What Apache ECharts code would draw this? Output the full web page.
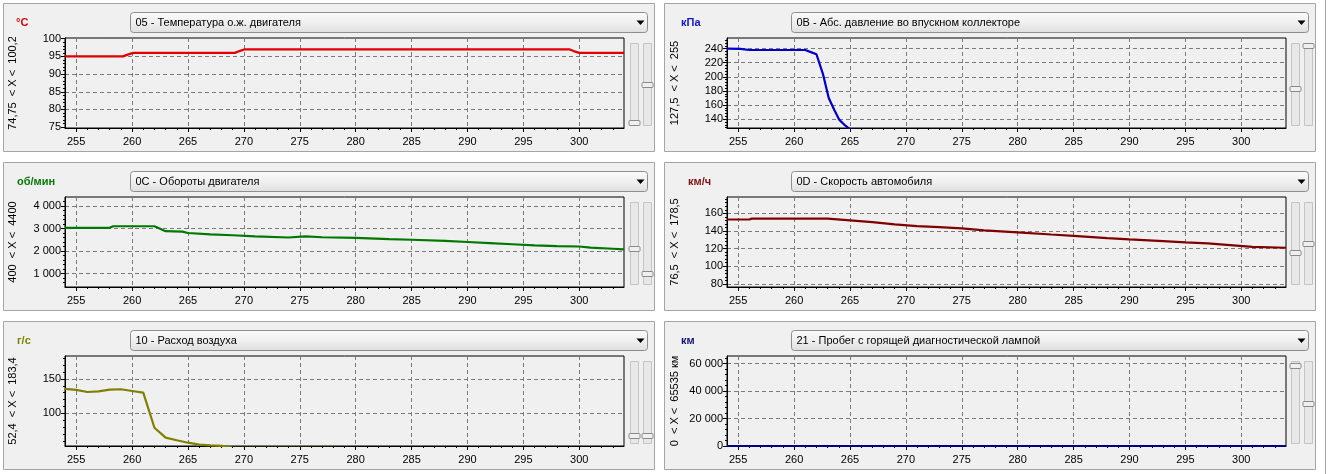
<!DOCTYPE html>
<html><head><meta charset="utf-8">
<script src="https://cdn.jsdelivr.net/npm/echarts@6/dist/echarts.min.js"></script>
<style>html,body{margin:0;padding:0;background:#fff}#c{width:1329px;height:474px}</style>
</head><body><div id="c"></div>
<script>
// ---- data ----
const xRange = [254, 304];
const xTicks = [255, 260, 265, 270, 275, 280, 285, 290, 295, 300];

const tempRange = [74.75, 100.2];
const tempTicks = [75, 80, 85, 90, 95, 100];
const tempTime  = [254, 259.2, 259.6, 260.1, 269.2, 269.6, 270.1, 299.1, 299.5, 300, 304];
const tempValue = [95, 95, 95.5, 96, 96, 96.5, 97, 97, 96.5, 96, 96];

const mapRange = [127.5, 255];
const mapTicks = [140, 160, 180, 200, 220, 240];
const mapTime  = [254, 255.2, 256, 261, 261.5, 262, 262.6, 263.1, 263.6, 264.05, 264.5, 265, 266, 268, 304];
const mapValue = [240, 239.5, 238, 238, 235, 232, 203, 170, 153, 139, 132, 126, 110, 100, 100];

const rpmRange = [400, 4400];
const rpmTicks = [1000, 2000, 3000, 4000];
const rpmTime  = [254, 258, 258.3, 262, 263, 264.5, 265, 267, 269, 271, 274, 275.5, 277, 280, 283, 285, 288, 290, 292, 294, 296, 298, 300, 301, 303, 304];
const rpmValue = [3030, 3030, 3100, 3100, 2880, 2860, 2800, 2740, 2700, 2650, 2600, 2650, 2610, 2580, 2530, 2500, 2450, 2400, 2350, 2300, 2250, 2220, 2200, 2150, 2100, 2070];

const speedRange = [76.5, 178.5];
const speedTicks = [80, 100, 120, 140, 160];
const speedTime  = [254, 256, 256.2, 263, 265, 267, 269, 271, 273, 275, 277, 280, 283, 285, 288, 290, 293, 295, 297, 299, 301, 304];
const speedValue = [153, 153, 154, 154, 152, 150, 147.5, 145.5, 144.3, 143, 140.7, 138.5, 136, 134.5, 132, 130.5, 128.5, 127, 126, 124, 122, 121];

const mafRange = [52.4, 183.4];
const mafTicks = [100, 150];
const mafTime  = [254, 255, 256, 257, 258, 259, 260, 261, 262, 263, 264, 265, 266, 267, 268, 269, 304];
const mafValue = [135.5, 134, 131, 132, 134.5, 135, 132.5, 130, 79, 64.5, 60.7, 57.2, 54.5, 53.2, 52.5, 50, 48];

const kmRange = [0, 65535];
const kmTicks = [0, 20000, 40000, 60000];
const kmTime  = [254, 304];
const kmValue = [0, 0];

// ---- layout / styling ----
const FONT = '"Liberation Sans", Arial, sans-serif';
const panels = [
  {px:3,   py:3,   gl:65,  gt:38,  unit:'°C',     ux:16,  uc:'#e00000', title:'05 - Температура о.ж. двигателя', range:'74,75  < X <  100,2', r:tempRange, ticks:tempTicks, split:5, t:tempTime, v:tempValue, color:'#e00000', thumbs:[1.0,0.5]},
  {px:664, py:3,   gl:727, gt:38,  unit:'кПа',    ux:681, uc:'#1414c8', title:'0B - Абс. давление во впускном коллекторе', range:'127,5  < X <  255', r:mapRange, ticks:mapTicks, split:6, t:mapTime, v:mapValue, color:'#0000c8', thumbs:[0.56,0]},
  {px:3,   py:162, gl:65,  gt:197, unit:'об/мин', ux:17,  uc:'#087808', title:'0C - Обороты двигателя', range:'400  < X <  4400', r:rpmRange, ticks:rpmTicks, split:5, t:rpmTime, v:rpmValue, color:'#007800', thumbs:[0.57,0.89]},
  {px:664, py:162, gl:727, gt:197, unit:'км/ч',   ux:688, uc:'#801010', title:'0D - Скорость автомобиля', range:'76,5  < X <  178,5', r:speedRange, ticks:speedTicks, split:5, t:speedTime, v:speedValue, color:'#800000', thumbs:[0.62,0.5]},
  {px:3,   py:321, gl:65,  gt:356, unit:'г/с',    ux:17,  uc:'#808000', title:'10 - Расход воздуха', range:'52,4  < X <  183,4', r:mafRange, ticks:mafTicks, split:3, t:mafTime, v:mafValue, color:'#808000', thumbs:[0.93,0.93]},
  {px:664, py:321, gl:727, gt:356, unit:'км',     ux:681, uc:'#10107a', title:'21 - Пробег с горящей диагностической лампой', range:'0  < X <  65535 км', r:kmRange, ticks:kmTicks, split:3, t:kmTime, v:kmValue, color:'#000080', thumbs:[0.02,0.52]}
];
const GW = 559, GH = 90;
const fmt = v => String(v).replace(/\B(?=(\d{3})+(?!\d))/g, ' ');

const grids = [], xAxes = [], yAxes = [], series = [], els = [];
panels.forEach((p, i) => {
  grids.push({left:p.gl, top:p.gt, width:GW, height:GH, show:true, borderColor:'#000', borderWidth:1, backgroundColor:'transparent'});
  xAxes.push({
    type:'value', gridIndex:i, min:xRange[0], max:xRange[1], splitNumber:10,
    axisLine:{show:true, lineStyle:{color:'#000', width:1}},
    axisTick:{show:true, customValues:xTicks, length:4, lineStyle:{color:'#000'}},
    minorTick:{show:true, splitNumber:5, length:2, lineStyle:{color:'#000'}},
    axisLabel:{customValues:xTicks, color:'#000', fontSize:11, fontFamily:FONT, margin:8},
    splitLine:{show:true, lineStyle:{color:'#7a7a7a', type:[4,3], width:1}}
  });
  yAxes.push({
    type:'value', gridIndex:i, min:p.r[0], max:p.r[1], splitNumber:p.split,
    name:p.range, nameLocation:'middle', nameRotate:90, nameGap:47,
    nameTextStyle:{color:'#000', fontSize:11, fontFamily:FONT},
    axisLine:{show:true, lineStyle:{color:'#000', width:1}},
    axisTick:{show:true, customValues:p.ticks, length:4, lineStyle:{color:'#000'}},
    minorTick:{show:true, splitNumber:5, length:2, lineStyle:{color:'#000'}},
    axisLabel:{customValues:p.ticks, color:'#000', fontSize:11, fontFamily:FONT, margin:4, formatter:fmt},
    splitLine:{show:true, lineStyle:{color:'#7a7a7a', type:[4,3], width:1}}
  });
  series.push({
    type:'line', xAxisIndex:i, yAxisIndex:i, showSymbol:false, symbol:'none', clip:true,
    lineStyle:{color:p.color, width:2.2}, itemStyle:{color:p.color},
    data:p.t.map((t, k) => [t, p.v[k]]), animation:false
  });

  // panel chrome
  els.push({type:'rect', z:-10, silent:true, shape:{x:p.px+0.5, y:p.py+0.5, width:651, height:148},
            style:{fill:'#f0f0f0', stroke:'#a5a5a5', lineWidth:1}});
  const cx = p.px + 127.5, cy = p.py + 9.5;
  els.push({type:'rect', z:10, silent:true, shape:{x:cx, y:cy, width:517, height:20, r:3},
            style:{fill:new echarts.graphic.LinearGradient(0,0,0,1,[{offset:0,color:'#fbfbfb'},{offset:0.5,color:'#f0f0f0'},{offset:1,color:'#dedede'}]), stroke:'#8e8e8e', lineWidth:1}});
  els.push({type:'text', z:11, silent:true, style:{text:p.title, x:cx+5, y:cy+10.5, font:'11px '+FONT, fill:'#000',
            textAlign:'left', textVerticalAlign:'middle', align:'left', verticalAlign:'middle'}});
  const ax = cx + 510, ay = cy + 10;
  els.push({type:'polygon', z:11, silent:true, shape:{points:[[ax-4,ay-2],[ax+4,ay-2],[ax,ay+2.5]]}, style:{fill:'#000'}});
  // cover for rotated label overflow
  els.push({type:'rect', z:5, silent:true, shape:{x:p.px+2, y:p.gt-18, width:13, height:17}, style:{fill:'#f0f0f0'}});
  els.push({type:'text', z:11, silent:true, style:{text:p.unit, x:p.ux, y:p.py+19.5, font:'bold 11px '+FONT, fill:p.uc,
            textAlign:'left', textVerticalAlign:'middle', align:'left', verticalAlign:'middle'}});
  // sliders
  const tTop = p.gt + 5, tH = 82;
  [p.px + 627.5, p.px + 640.5].forEach((tx, j) => {
    els.push({type:'rect', z:10, silent:true, shape:{x:tx, y:tTop+0.5, width:8, height:tH}, style:{fill:'#e8e8e8', stroke:'#c4c4c4', lineWidth:1}});
    const thY = tTop + p.thumbs[j] * (tH - 5);
    els.push({type:'rect', z:11, silent:true, shape:{x:tx-1.5, y:Math.round(thY)+0.5, width:11, height:5, r:1}, style:{fill:'#efefef', stroke:'#8a8a8a', lineWidth:1}});
  });
});
els.push({type:'line', z:10, silent:true, shape:{x1:1325.5, y1:0, x2:1325.5, y2:474}, style:{stroke:'#a5a5a5', lineWidth:1}});

const chart = echarts.init(document.getElementById('c'), null, {renderer:'canvas'});
chart.setOption({
  backgroundColor:'#ffffff', animation:false,
  textStyle:{fontFamily:FONT},
  grid:grids, xAxis:xAxes, yAxis:yAxes, series:series,
  graphic:{elements:els}
});
</script></body></html>
